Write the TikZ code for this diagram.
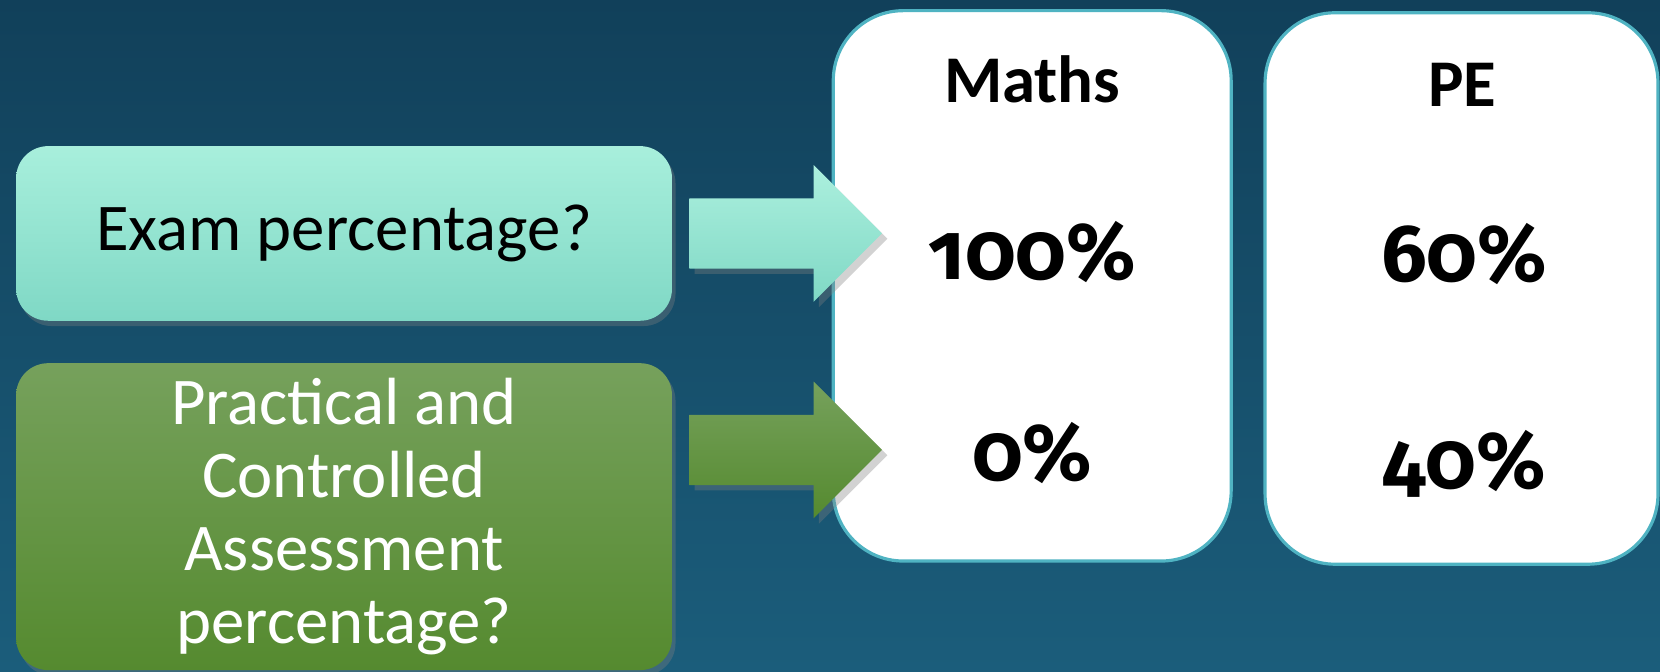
\documentclass[tikz,border=0pt]{standalone}
\usepackage{fontspec}
\setmainfont{Carlito}
\newfontfamily\pctfont{Fira Sans}[Numbers=OldStyle]
\usepackage{tikz}
\usetikzlibrary{positioning,shapes.arrows,shadows}

\definecolor{bgtop}{HTML}{11405A}
\definecolor{bgbot}{HTML}{1B5D7B}
\definecolor{examtop}{HTML}{A8EFDC}
\definecolor{exambot}{HTML}{7FD8C5}
\definecolor{cwtop}{HTML}{76A15C}
\definecolor{cwbot}{HTML}{558A2F}
\definecolor{cardline}{HTML}{4FB3C2}

\begin{document}
\begin{tikzpicture}[x=0.010587cm, y=-0.010587cm,
        qbox/.style={rectangle, rounded corners=0.32cm, minimum width=6.56cm, inner sep=0pt, align=center,
            font=\fontsize{19}{20.8}\selectfont,
            drop shadow={opacity=0.35, shadow xshift=1pt, shadow yshift=-1.5pt}},
        card/.style={rectangle, rounded corners=0.7cm, fill=white, draw=cardline, line width=0.9pt, inner sep=0pt},
        bigarrow/.style={single arrow, single arrow head extend=0.333cm, inner xsep=0pt, inner ysep=0.344cm,
            minimum height=1.927cm, anchor=tail,
            drop shadow={opacity=0.35, shadow xshift=1.5pt, shadow yshift=-1.5pt}},
        title/.style={font=\fontsize{19}{22}\selectfont\bfseries},
        pct/.style={font=\pctfont\fontsize{23}{28}\selectfont\bfseries}]
    \useasboundingbox (0,0) rectangle (1568,634);
    \fill[top color=bgtop, bottom color=bgbot] (0,0) rectangle (1568,634);

    % question boxes
    \node[qbox, minimum height=1.747cm, top color=examtop, bottom color=exambot] (exam) at (325,220.5) {Exam percentage?};
    \node[qbox, minimum height=3.07cm, top color=cwtop, bottom color=cwbot, text=white] (cw) at (325,488)
        {Practical and\\Controlled\\Assessment\\percentage?};

    % subject cards
    \node[card, minimum width=3.98cm, minimum height=5.505cm] (maths) at (975,270) {};
    \node[card, minimum width=3.93cm, minimum height=5.516cm] (pe) at (1380.5,272.5) {};

    \node[title] (mathsT) at (975,75) {Maths};
    \node[title] (peT) at (1381,80) {PE};
    \node[pct] (mathsExam) at (975,238) {100\%};
    \node[pct] (peExam) at (1383,240) {60\%};
    \node[pct] (mathsCw) at (975,428) {0\%};
    \node[pct] (peCw) at (1383,438) {40\%};

    % arrows
    \node[bigarrow, top color=examtop!95!white, bottom color=exambot] (arrExam) at ([xshift=0.16cm]exam.east) {};
    \node[bigarrow, top color=cwtop, bottom color=cwbot] (arrCw) at ([xshift=0.16cm]exam.east |- 0,425) {};
\end{tikzpicture}
\end{document}
